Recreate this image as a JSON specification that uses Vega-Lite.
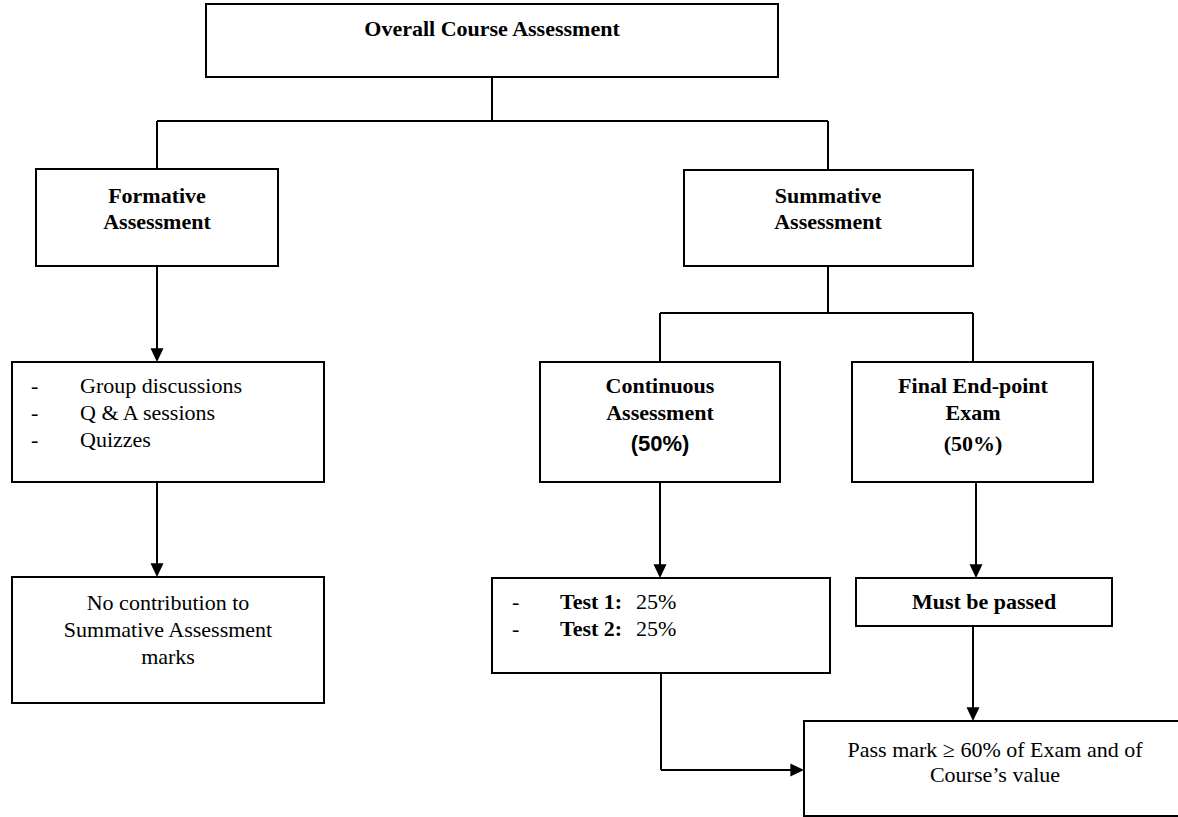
{
  "$schema": "https://vega.github.io/schema/vega-lite/v6.json",
  "width": 1178,
  "height": 817,
  "padding": 0,
  "autosize": {"type": "fit", "contains": "padding"},
  "background": "white",
  "config": {"view": {"stroke": null}},
  "datasets": {
    "boxes": [
      {"name": "Overall", "x": 206, "y": 4, "x2": 778, "y2": 77},
      {"name": "Formative", "x": 36, "y": 169, "x2": 278, "y2": 266},
      {"name": "Summative", "x": 684, "y": 170, "x2": 973, "y2": 266},
      {"name": "Formative items", "x": 12, "y": 362, "x2": 324, "y2": 482},
      {"name": "No contribution", "x": 12, "y": 577, "x2": 324, "y2": 703},
      {"name": "Continuous", "x": 540, "y": 362, "x2": 780, "y2": 482},
      {"name": "Final", "x": 852, "y": 362, "x2": 1093, "y2": 482},
      {"name": "Tests", "x": 492, "y": 578, "x2": 830, "y2": 673},
      {"name": "Must be passed", "x": 856, "y": 578, "x2": 1112, "y2": 626},
      {"name": "Pass mark", "x": 804, "y": 721, "x2": 1190, "y2": 816}
    ],
    "segments": [
      {"x": 492, "y": 77, "x2": 492, "y2": 121},
      {"x": 157, "y": 121, "x2": 828, "y2": 121},
      {"x": 157, "y": 121, "x2": 157, "y2": 169},
      {"x": 828, "y": 121, "x2": 828, "y2": 170},
      {"x": 157, "y": 266, "x2": 157, "y2": 352},
      {"x": 157, "y": 482, "x2": 157, "y2": 567},
      {"x": 828, "y": 266, "x2": 828, "y2": 313},
      {"x": 660, "y": 313, "x2": 973, "y2": 313},
      {"x": 660, "y": 313, "x2": 660, "y2": 362},
      {"x": 973, "y": 313, "x2": 973, "y2": 362},
      {"x": 660, "y": 482, "x2": 660, "y2": 568},
      {"x": 976, "y": 482, "x2": 976, "y2": 568},
      {"x": 661, "y": 673, "x2": 661, "y2": 770},
      {"x": 661, "y": 770, "x2": 794, "y2": 770},
      {"x": 973, "y": 626, "x2": 973, "y2": 711}
    ],
    "arrowsDown": [
      {"x": 157, "y": 362},
      {"x": 157, "y": 577},
      {"x": 660, "y": 578},
      {"x": 976, "y": 578},
      {"x": 973, "y": 721}
    ],
    "arrowsRight": [
      {"x": 804, "y": 770}
    ],
    "boldCenter": [
      {"x": 492, "y": 36, "text": "Overall Course Assessment"},
      {"x": 157, "y": 203, "text": "Formative"},
      {"x": 157, "y": 229, "text": "Assessment"},
      {"x": 828, "y": 203, "text": "Summative"},
      {"x": 828, "y": 229, "text": "Assessment"},
      {"x": 660, "y": 393, "text": "Continuous"},
      {"x": 660, "y": 420, "text": "Assessment"},
      {"x": 973, "y": 393, "text": "Final End-point"},
      {"x": 973, "y": 420, "text": "Exam"},
      {"x": 973, "y": 451, "text": "(50%)"},
      {"x": 984, "y": 609, "text": "Must be passed"}
    ],
    "sansBoldCenter": [
      {"x": 660, "y": 451, "text": "(50%)"}
    ],
    "regularCenter": [
      {"x": 168, "y": 610, "text": "No contribution to"},
      {"x": 168, "y": 637, "text": "Summative Assessment"},
      {"x": 168, "y": 664, "text": "marks"},
      {"x": 995, "y": 757, "text": "Pass mark ≥ 60% of Exam and of"},
      {"x": 995, "y": 782, "text": "Course’s value"}
    ],
    "regularLeft": [
      {"x": 31, "y": 393, "text": "-"},
      {"x": 31, "y": 420, "text": "-"},
      {"x": 31, "y": 447, "text": "-"},
      {"x": 80, "y": 393, "text": "Group discussions"},
      {"x": 80, "y": 420, "text": "Q & A sessions"},
      {"x": 80, "y": 447, "text": "Quizzes"},
      {"x": 512, "y": 609, "text": "-"},
      {"x": 512, "y": 636, "text": "-"},
      {"x": 636, "y": 609, "text": "25%"},
      {"x": 636, "y": 636, "text": "25%"}
    ],
    "boldLeft": [
      {"x": 560, "y": 609, "text": "Test 1:"},
      {"x": 560, "y": 636, "text": "Test 2:"}
    ]
  },
  "encoding": {
    "x": {"field": "x", "type": "quantitative", "scale": {"domain": [0, 1178], "nice": false, "zero": false}, "axis": null},
    "y": {"field": "y", "type": "quantitative", "scale": {"domain": [0, 817], "nice": false, "zero": false, "reverse": true}, "axis": null}
  },
  "layer": [
    {
      "data": {"name": "boxes"},
      "mark": {"type": "rect", "fill": "white", "stroke": "black", "strokeWidth": 2, "clip": true},
      "encoding": {"x2": {"field": "x2"}, "y2": {"field": "y2"}}
    },
    {
      "data": {"name": "segments"},
      "mark": {"type": "rule", "stroke": "black", "strokeWidth": 2},
      "encoding": {"x2": {"field": "x2"}, "y2": {"field": "y2"}}
    },
    {
      "data": {"name": "arrowsDown"},
      "mark": {"type": "point", "shape": "M-1,-2.1L1,-2.1L0,0Z", "filled": true, "fill": "black", "stroke": null, "size": 169, "opacity": 1},
      "encoding": {}
    },
    {
      "data": {"name": "arrowsRight"},
      "mark": {"type": "point", "shape": "M-2.1,-1L-2.1,1L0,0Z", "filled": true, "fill": "black", "stroke": null, "size": 169, "opacity": 1},
      "encoding": {}
    },
    {
      "data": {"name": "boldCenter"},
      "mark": {"type": "text", "font": "Liberation Serif", "fontSize": 22, "fontWeight": "bold", "align": "center", "baseline": "alphabetic", "color": "black"},
      "encoding": {"text": {"field": "text"}}
    },
    {
      "data": {"name": "sansBoldCenter"},
      "mark": {"type": "text", "font": "Liberation Sans", "fontSize": 22, "fontWeight": "bold", "align": "center", "baseline": "alphabetic", "color": "black"},
      "encoding": {"text": {"field": "text"}}
    },
    {
      "data": {"name": "regularCenter"},
      "mark": {"type": "text", "font": "Liberation Serif", "fontSize": 22, "align": "center", "baseline": "alphabetic", "color": "black"},
      "encoding": {"text": {"field": "text"}}
    },
    {
      "data": {"name": "regularLeft"},
      "mark": {"type": "text", "font": "Liberation Serif", "fontSize": 22, "align": "left", "baseline": "alphabetic", "color": "black"},
      "encoding": {"text": {"field": "text"}}
    },
    {
      "data": {"name": "boldLeft"},
      "mark": {"type": "text", "font": "Liberation Serif", "fontSize": 22, "fontWeight": "bold", "align": "left", "baseline": "alphabetic", "color": "black"},
      "encoding": {"text": {"field": "text"}}
    }
  ]
}
